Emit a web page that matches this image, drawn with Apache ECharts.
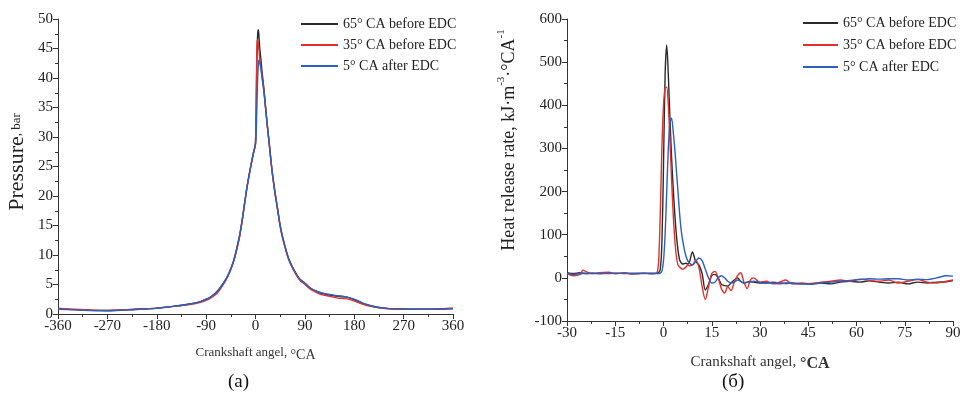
<!DOCTYPE html>
<html>
<head>
<meta charset="utf-8">
<script src="https://cdn.jsdelivr.net/npm/echarts@6/dist/echarts.min.js"></script>
<style>
  html, body { margin: 0; padding: 0; background: #fff; }
  #chart { width: 965px; height: 403px; }
</style>
</head>
<body>
<div id="chart"></div>
<script>
// Series names shared by both panels
const seriesNames = ['65° CA before EDC', '35° CA before EDC', '5° CA after EDC'];
const seriesColors = ['#2b2b2b', '#e0302b', '#2d5fbd'];

// Panel (a): cylinder pressure, bar, versus crank angle
const pressureAngles = [-360, -330, -300, -270, -240, -210, -180, -150, -120, -100, -90, -80, -70, -60, -50, -40, -30, -25, -20, -15, -10, -6, -3, -1, 0, 1, 2, 3, 4, 5, 6, 7, 8, 10, 12, 15, 18, 21, 25, 30, 35, 40, 45, 50, 60, 70, 80, 90, 100, 110, 120, 135, 150, 165, 180, 195, 210, 225, 240, 270, 300, 330, 360];
const pressure65 = [0.9, 0.75, 0.65, 0.6, 0.7, 0.85, 1.0, 1.3, 1.7, 2.1, 2.5, 3.0, 3.8, 5.0, 6.6, 9.0, 12.8, 15.5, 18.7, 21.8, 24.4, 26.3, 27.6, 28.4, 29.0, 33.0, 40.0, 45.0, 47.5, 48.2, 47.5, 46.0, 44.8, 43.0, 41.0, 38.5, 35.5, 32.5, 29.0, 24.5, 21.0, 18.0, 15.0, 12.8, 9.5, 7.5, 6.0, 5.2, 4.4, 3.9, 3.5, 3.2, 3.0, 2.9, 2.4, 1.8, 1.4, 1.1, 0.95, 0.85, 0.8, 0.85, 0.95];
const pressure35 = [1.0, 0.8, 0.7, 0.6, 0.7, 0.85, 1.0, 1.3, 1.6, 2.0, 2.3, 2.8, 3.5, 4.8, 6.4, 8.8, 12.6, 15.3, 18.5, 21.7, 24.3, 26.2, 27.5, 28.3, 29.0, 34.0, 42.0, 46.0, 46.5, 46.0, 45.0, 44.0, 43.0, 41.8, 40.2, 38.0, 35.2, 32.3, 28.8, 24.3, 20.8, 17.8, 14.8, 12.6, 9.3, 7.3, 5.8, 5.0, 4.2, 3.7, 3.3, 3.0, 2.7, 2.6, 2.2, 1.7, 1.3, 1.05, 0.9, 0.8, 0.8, 0.85, 1.0];
const pressure5 = [0.8, 0.7, 0.6, 0.55, 0.65, 0.8, 0.95, 1.3, 1.7, 2.1, 2.5, 3.0, 3.8, 5.0, 6.6, 9.0, 12.8, 15.5, 18.7, 21.8, 24.4, 26.3, 27.6, 28.3, 28.8, 30.0, 33.0, 37.0, 40.0, 42.0, 43.0, 43.0, 42.5, 41.5, 40.0, 38.0, 35.3, 32.4, 28.9, 24.4, 20.9, 17.9, 15.0, 12.8, 9.5, 7.5, 6.0, 5.2, 4.4, 3.9, 3.6, 3.3, 3.1, 2.9, 2.5, 1.9, 1.4, 1.1, 0.95, 0.85, 0.8, 0.8, 0.9];

// Panel (б): heat release rate, kJ·m-3·°CA-1, versus crank angle
const hrrAngles = [-30, -28, -26, -25, -24, -22, -20, -17, -15, -12, -10, -8, -6, -4, -3, -2, -1.5, -1, -0.5, 0, 0.5, 1, 1.5, 2, 2.5, 3, 3.5, 4, 4.5, 5, 5.5, 6, 6.5, 7, 7.5, 8, 9, 10, 11, 12, 13, 14, 15, 16, 17, 18, 19, 20, 21, 22, 23, 24, 25, 26, 27, 28, 30, 32, 34, 36, 38, 40, 43, 46, 49, 52, 55, 58, 61, 64, 67, 70, 73, 76, 79, 82, 85, 88, 90];
const hrr65 = [12, 10, 12, 11, 10, 11, 10, 11, 10, 11, 10, 10, 11, 10, 10, 11, 12, 20, 80, 260, 470, 540, 470, 370, 280, 210, 150, 100, 65, 42, 35, 32, 33, 34, 32, 35, 60, 38, 30, 10, -28, -15, 5, 8, 0, -15, -18, -19, -12, -5, 0, -8, -12, -10, -8, -10, -12, -12, -10, -12, -13, -12, -14, -13, -12, -14, -10, -8, -10, -7, -10, -12, -10, -14, -10, -12, -10, -9, -6];
const hrr35 = [10, 5, 8, 18, 14, 10, 12, 13, 10, 12, 9, 10, 11, 10, 10, 12, 40, 150, 300, 400, 440, 442, 400, 320, 230, 150, 90, 50, 30, 25, 22, 20, 22, 25, 30, 28, 30, 40, 25, -20, -50, -20, 10, 15, 0, -25, -35, -20, -30, -10, 5, 12, -10, -25, -5, 0, -10, -8, -14, -10, -5, -14, -12, -14, -10, -8, -5, -8, -3, -6, -8, -5, -12, -8, -4, -10, -12, -8, -5];
const hrr5 = [10, 8, 9, 10, 10, 10, 10, 10, 11, 10, 10, 10, 10, 10, 10, 10, 10, 11, 15, 40, 100, 200, 300, 360, 370, 340, 300, 250, 200, 150, 110, 85, 65, 50, 40, 35, 30, 38, 46, 40, 20, 0, -12, -10, 0, 5, 0, -8, -12, -10, -5, -8, -12, -10, -10, -8, -10, -12, -12, -14, -12, -13, -14, -15, -12, -10, -8, -6, -4, -2, -3, -2, -2, -5, -3, -4, 0, 5, 4];

const serifFont = '"Liberation Serif", "DejaVu Serif", serif';
const axisColor = '#333';

function pairs(xs, ys) {
  return xs.map((x, i) => [x, ys[i]]);
}

function baseAxis(extra) {
  return Object.assign({
    axisLine: { show: true, onZero: false, lineStyle: { color: axisColor, width: 1 } },
    axisTick: { show: true, inside: false, length: 5, lineStyle: { color: axisColor } },
    minorTick: { show: true, splitNumber: 2, length: 3, lineStyle: { color: axisColor } },
    splitLine: { show: false },
    axisLabel: { color: '#222', fontFamily: serifFont, fontSize: 15, margin: 5 }
  }, extra);
}

const chart = echarts.init(document.getElementById('chart'), null, { renderer: 'canvas' });

const option = {
  backgroundColor: '#fff',
  animation: false,
  grid: [
    { left: 58, top: 19, width: 395, height: 295 },
    { left: 567, top: 19, width: 386, height: 302 }
  ],
  legend: [
    {
      data: seriesNames, orient: 'vertical', left: 296, top: 12,
      icon: 'rect', itemWidth: 37, itemHeight: 2, itemGap: 7,
      textStyle: { fontFamily: serifFont, fontSize: 14, color: '#222' }
    },
    {
      data: seriesNames, orient: 'vertical', left: 798, top: 11,
      icon: 'rect', itemWidth: 35, itemHeight: 2, itemGap: 8,
      textStyle: { fontFamily: serifFont, fontSize: 14, color: '#222' }
    }
  ],
  xAxis: [
    baseAxis({
      gridIndex: 0, type: 'value', min: -360, max: 360, interval: 90,
      name: '{t|Crankshaft angel, }{u|°CA}', nameLocation: 'middle', nameGap: 30,
      nameTextStyle: { rich: {
        t: { fontFamily: serifFont, fontSize: 13, color: '#333' },
        u: { fontFamily: serifFont, fontSize: 14, color: '#333', padding: [4, 0, 0, 0] }
      } }
    }),
    baseAxis({
      gridIndex: 1, type: 'value', min: -30, max: 90, interval: 15,
      name: '{t|Crankshaft angel, }{u|°CA}', nameLocation: 'middle', nameGap: 31,
      nameTextStyle: { rich: {
        t: { fontFamily: serifFont, fontSize: 15, color: '#333' },
        u: { fontFamily: serifFont, fontSize: 16, fontWeight: 'bold', color: '#333', padding: [4, 0, 0, 0] }
      } }
    })
  ],
  yAxis: [
    baseAxis({ gridIndex: 0, type: 'value', min: 0, max: 50, interval: 5 }),
    baseAxis({ gridIndex: 1, type: 'value', min: -100, max: 600, interval: 100 })
  ],
  series: [
    { name: seriesNames[0], xAxisIndex: 0, yAxisIndex: 0, data: pairs(pressureAngles, pressure65) },
    { name: seriesNames[1], xAxisIndex: 0, yAxisIndex: 0, data: pairs(pressureAngles, pressure35) },
    { name: seriesNames[2], xAxisIndex: 0, yAxisIndex: 0, data: pairs(pressureAngles, pressure5) },
    { name: seriesNames[0], xAxisIndex: 1, yAxisIndex: 1, data: pairs(hrrAngles, hrr65) },
    { name: seriesNames[1], xAxisIndex: 1, yAxisIndex: 1, data: pairs(hrrAngles, hrr35) },
    { name: seriesNames[2], xAxisIndex: 1, yAxisIndex: 1, data: pairs(hrrAngles, hrr5) }
  ].map((s, i) => Object.assign({
    type: 'line', showSymbol: false, smooth: 0.3,
    lineStyle: { width: 1.4, color: seriesColors[i % 3] },
    itemStyle: { color: seriesColors[i % 3] }
  }, s)),
  graphic: [
    // vertical axis titles
    {
      type: 'text', x: 17, y: 162, rotation: Math.PI / 2,
      style: {
        text: '{t|Pressure}{u|, bar}', align: 'center', verticalAlign: 'middle',
        rich: {
          t: { fontFamily: serifFont, fontSize: 22, fill: '#222' },
          u: { fontFamily: serifFont, fontSize: 13, fill: '#222' }
        }
      }
    },
    {
      type: 'text', x: 507, y: 140, rotation: Math.PI / 2,
      style: {
        text: '{t|Heat release rate, kJ·m}{s|-3}{t|·°CA}{s|-1}', align: 'center', verticalAlign: 'middle',
        rich: {
          t: { fontFamily: serifFont, fontSize: 18, fill: '#222', lineHeight: 22, verticalAlign: 'bottom' },
          s: { fontFamily: serifFont, fontSize: 11, fill: '#222', lineHeight: 22, verticalAlign: 'top' }
        }
      }
    },
    // panel captions
    { type: 'text', left: 228, top: 373, style: { text: '(a)', font: '19px ' + serifFont, fill: '#111' } },
    { type: 'text', left: 722, top: 373, style: { text: '(б)', font: '19px ' + serifFont, fill: '#111' } }
  ]
};

chart.setOption(option);
</script>
</body>
</html>
